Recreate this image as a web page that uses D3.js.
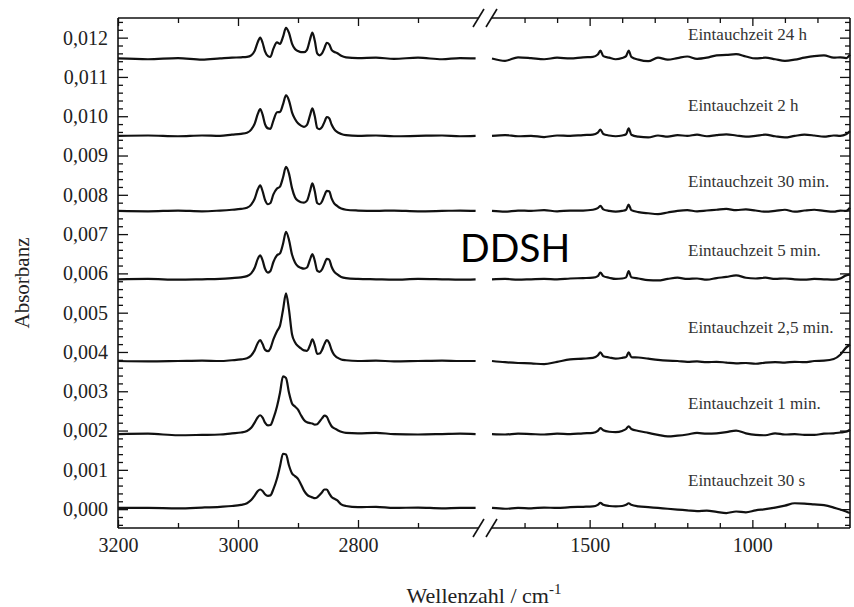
<!DOCTYPE html>
<html>
<head>
<meta charset="utf-8">
<script src="https://cdn.jsdelivr.net/npm/d3@7"></script>
<style>
  body { margin: 0; background: #fff; }
  svg { display: block; }
</style>
</head>
<body>
<script>
// spectra: absorbance offsets above each baseline, in units of 1e-4
const leftWn = [3200, 3150, 3100, 3060, 3030, 3010, 2995, 2985, 2978, 2972, 2967, 2963, 2959, 2955, 2950, 2946, 2941, 2935, 2930, 2925,
  2920, 2915, 2910, 2905, 2900, 2895, 2890, 2885, 2880, 2876, 2872, 2868, 2864, 2860, 2856, 2852, 2848, 2844, 2840, 2835,
  2828, 2820, 2800, 2770, 2740, 2700, 2660, 2630, 2604];
const rightWn = [1800, 1760, 1720, 1680, 1640, 1600, 1560, 1520, 1490, 1475, 1467, 1458, 1440, 1420, 1400, 1388, 1380, 1372, 1350, 1320,
  1290, 1260, 1230, 1200, 1170, 1140, 1110, 1080, 1050, 1020, 990, 960, 930, 900, 870, 840, 810, 780, 750, 730, 712, 700];

const labels = ["Eintauchzeit 24 h", "Eintauchzeit 2 h", "Eintauchzeit 30 min.", "Eintauchzeit 5 min.",
  "Eintauchzeit 2,5 min.", "Eintauchzeit 1 min.", "Eintauchzeit 30 s"];
const baselines = [0.01147, 0.0095, 0.00759, 0.00585, 0.00377, 0.00191, 0.00003];

const left24h = [0, -0.2, 0.1, -0.3, 0, 0.2, 0.3, 0.4, 0.8, 2.0, 4.2, 5.3, 4.0, 1.8, 0.6, 0.4, 2.5, 4.1, 3.7, 5.5,
  7.8, 6.5, 3.8, 2.4, 1.9, 1.6, 1.6, 2.2, 4.8, 6.6, 4.5, 1.3, 0.8, 1.3, 2.6, 4.0, 3.6, 2.2, 1.7, 1.4,
  0.7, 0.3, 0.1, 0.2, -0.1, 0.2, -0.2, 0.1, 0];
const left2h = [0, 0.1, -0.1, 0.1, 0, 0.3, 0.5, 0.8, 1.6, 3.2, 5.6, 6.8, 5.4, 3.0, 1.9, 1.8, 3.9, 6.0, 6.1, 8.0,
  10.3, 9.0, 6.0, 4.3, 3.2, 2.6, 2.3, 2.8, 5.2, 7.0, 5.0, 2.0, 1.7, 2.2, 3.5, 4.8, 4.5, 2.9, 1.8, 1.0,
  0.5, 0.2, 0, 0.1, -0.1, 0, 0.1, -0.1, 0];
const left30min = [0, -0.1, 0.1, -0.1, 0.1, 0.3, 0.5, 0.8, 1.6, 3.2, 5.5, 6.5, 5.0, 2.8, 1.7, 2.0, 4.2, 5.7, 6.2, 8.5,
  11.2, 9.5, 5.8, 3.5, 2.6, 2.2, 2.1, 2.6, 5.0, 7.0, 5.0, 2.0, 1.7, 2.4, 3.9, 5.1, 5.0, 3.2, 2.0, 1.3,
  0.6, 0.3, 0.1, 0, 0.1, -0.1, 0, 0.1, 0];
const left5min = [0, 0.1, -0.1, 0, 0.1, 0.3, 0.5, 0.8, 1.5, 3.0, 5.2, 6.1, 4.8, 2.7, 1.7, 2.1, 4.4, 6.1, 6.6, 9.0,
  12.1, 10.0, 6.3, 4.3, 3.3, 2.9, 2.7, 3.0, 5.0, 6.4, 4.7, 2.2, 1.9, 2.5, 3.9, 5.2, 5.0, 3.2, 2.0, 1.3,
  0.6, 0.3, 0.1, 0, -0.1, 0.1, 0, -0.1, 0];
const left25min = [0, -0.1, 0, 0.1, 0, 0.2, 0.4, 0.7, 1.4, 2.8, 4.6, 5.3, 4.3, 2.9, 2.5, 3.2, 5.5, 7.6, 9.0, 13.0,
  17.2, 13.0, 6.8, 4.8, 3.8, 3.2, 2.7, 2.6, 4.0, 5.5, 4.0, 1.8, 1.9, 2.8, 4.3, 5.3, 4.6, 2.8, 1.6, 0.9,
  0.4, 0.2, 0, 0.1, -0.1, 0, 0.1, 0, 0];
const left1min = [0, 0.1, -0.3, -0.2, -0.1, 0.2, 0.4, 0.8, 1.6, 3.0, 4.3, 4.8, 4.2, 2.9, 2.2, 2.3, 4.0, 7.0, 10.5, 14.7,
  14.3, 10.5, 7.8, 7.0, 6.2, 4.8, 3.6, 3.0, 2.8, 2.7, 2.4, 2.5, 3.2, 4.0, 4.7, 4.4, 3.1, 2.0, 1.5, 1.1,
  0.6, 0.3, 0.2, 0.3, 0, -0.1, 0, 0.1, 0];
const left30s = [0, 0, -0.1, 0.1, 0.3, 0.5, 0.8, 1.2, 2.0, 3.2, 4.3, 4.7, 4.3, 3.5, 3.1, 3.2, 4.8, 7.5, 10.6, 13.8,
  13.6, 10.8, 8.8, 8.1, 7.4, 6.0, 4.4, 3.4, 2.9, 2.7, 2.5, 2.7, 3.3, 4.0, 4.7, 4.7, 3.7, 2.8, 2.4, 2.0,
  0.9, 0.5, 0.2, 0.3, 0, 0.1, -0.1, 0, 0];

const right24h = [0, -0.6, 0.3, 0.1, -0.2, 0.2, 0, 0.3, 0.4, 1.0, 2.0, 0.6, 0.2, -0.2, 0.1, 0.6, 2.0, 0.4, -0.3, -0.7,
  0.2, -0.3, 0.1, 0.5, -0.1, 0.2, 0.8, 0.9, 1.1, 0.5, 0, 0.2, -0.2, -0.6, -0.3, 0.2, 0.6, 0.8, 0.2, 0.3, 0.1, 1.0];
const right2h = [0, 0.2, -0.1, 0, -0.3, 0.1, 0, 0.2, 0.3, 0.8, 1.6, 0.5, 0.1, -0.1, 0.1, 0.4, 1.9, 0.3, -0.2, -0.4,
  0.1, -0.2, 0.2, 0, 0.3, -0.1, 0.2, 0.4, 0.1, -0.2, 0, 0.3, -0.1, -0.4, 0, 0.3, 0.1, -0.2, 0.1, 0, 0.4, 1.2];
const right30min = [0, -0.2, 0.1, 0, 0.2, -0.1, 0.1, 0.1, 0.3, 0.7, 1.3, 0.4, 0, -0.2, 0, 0.3, 1.6, 0.2, -0.3, -0.6,
  -0.8, -0.4, 0, 0.2, -0.1, 0.1, 0.3, 0.5, 0.2, 0.4, 0.1, -0.2, 0, 0.3, -0.2, 0.1, 0.3, 0, -0.2, 0.1, 0, 0.8];
const right5min = [0, 0.1, -0.1, 0, 0.1, 0, 0.2, 0.3, 0.4, 0.8, 1.7, 0.8, 0.4, 0.1, 0.2, 0.5, 2.1, 0.5, 0.2, -0.2,
  -0.3, 0.1, 0.4, 0.1, 0.2, -0.1, 0.3, 0.6, 1.0, 0.4, 0.2, 0.4, 0.1, 0.2, 0, -0.1, 0.1, 0, -0.1, 0.2, 1.0, 1.2];
const right25min = [0, -0.3, -0.5, -0.6, -0.8, -0.2, 0.4, 0.6, 0.8, 1.4, 2.2, 1.2, 0.9, 0.6, 0.8, 1.0, 2.2, 1.0, 0.9, 0.6,
  0.3, 0.1, 0, -0.2, -0.1, -0.3, -0.2, -0.4, -0.6, -0.5, -0.7, -0.4, -0.3, -0.4, -0.2, -0.3, 0, 0.1, 0.5, 1.6, 3.4, 4.2];
const right1min = [0, -0.1, 0.1, 0, -0.1, 0.1, 0, 0.2, 0.3, 0.8, 1.5, 1.0, 0.6, 0.5, 0.8, 1.3, 2.0, 1.3, 0.8, 0.3,
  -0.2, -0.6, -0.4, -0.1, 0.3, 0.1, 0.2, 0.5, 0.9, 0.2, -0.2, -0.3, 0.2, -0.1, 0, -0.2, -0.2, 0.1, 0.2, 0.4, 0.6, 1.1];
const right30s = [0, -0.2, 0, -0.1, 0.1, 0, 0.2, 0.3, 0.4, 0.8, 1.3, 0.8, 0.5, 0.4, 0.5, 0.8, 1.2, 0.8, 0.4, 0.2,
  0, -0.2, -0.4, -0.6, -0.8, -0.7, -1.0, -1.3, -0.9, -1.1, -0.6, -0.3, 0.1, 0.6, 1.2, 1.1, 0.9, 0.7, 0.1, -0.4, -0.9, -1.3];

const leftSeries = [left24h, left2h, left30min, left5min, left25min, left1min, left30s];
const rightSeries = [right24h, right2h, right30min, right5min, right25min, right1min, right30s];

const yMajor = [0, 0.001, 0.002, 0.003, 0.004, 0.005, 0.006, 0.007, 0.008, 0.009, 0.010, 0.011, 0.012];
const leftMajor = [3200, 3000, 2800];
const leftMinor = [3100, 2900, 2700];
const rightMajor = [1500, 1000];
const rightMinor = [1700, 1600, 1400, 1300, 1200, 1100, 900, 800];

const width = 854, height = 607;
const svg = d3.select('body').append('svg')
  .attr('width', width)
  .attr('height', height);

const plotTop = 18, plotBottom = 528, plotLeft = 118, plotRight = 850;
const gapL = 478, gapR = 492;
// label lift above each spectrum (px, layout only)
const labelLift = [24, 30, 29, 29, 34, 31, 27];

const xL = d3.scaleLinear().domain([3200, 2600]).range([plotLeft, gapL]);
const xR = d3.scaleLinear().domain([1800, 700]).range([gapR, plotRight]);
const y = d3.scaleLinear().domain([-0.00048, 0.0125]).range([plotBottom, plotTop]);

const locale = d3.formatLocale({decimal: ",", thousands: ".", grouping: [3], currency: ["", ""]});
const fmt = locale.format(".3f");

const yMinor = d3.range(-0.0004, 0.01251, 0.0002).filter(v => Math.abs(Math.round(v * 1000) - v * 1000) > 1e-6);

const serif = "'Liberation Serif', 'Times New Roman', serif";

function styleAxis(g) {
  g.select('.domain').remove();
  g.selectAll('line').attr('stroke', '#111').attr('stroke-width', 1.3);
  g.selectAll('text').attr('font-family', serif).attr('font-size', 20).attr('fill', '#222');
}

// left axis
svg.append('g').attr('transform', `translate(${plotLeft},0)`)
  .call(d3.axisLeft(y).tickValues(yMajor).tickSize(-10).tickPadding(10).tickFormat(fmt))
  .call(styleAxis);
svg.append('g').attr('transform', `translate(${plotLeft},0)`)
  .call(d3.axisLeft(y).tickValues(yMinor).tickSize(-5).tickFormat(''))
  .call(styleAxis);
// right axis
svg.append('g').attr('transform', `translate(${plotRight},0)`)
  .call(d3.axisRight(y).tickValues(yMajor).tickSize(-10).tickFormat(''))
  .call(styleAxis);
svg.append('g').attr('transform', `translate(${plotRight},0)`)
  .call(d3.axisRight(y).tickValues(yMinor).tickSize(-5).tickFormat(''))
  .call(styleAxis);

// bottom + top axes, both panels
[[xL, leftMajor, leftMinor], [xR, rightMajor, rightMinor]].forEach(([sc, maj, min]) => {
  svg.append('g').attr('transform', `translate(0,${plotBottom})`)
    .call(d3.axisBottom(sc).tickValues(maj).tickSize(-8).tickPadding(10).tickFormat(d3.format('d')))
    .call(styleAxis);
  svg.append('g').attr('transform', `translate(0,${plotBottom})`)
    .call(d3.axisBottom(sc).tickValues(min).tickSize(-5).tickFormat(''))
    .call(styleAxis);
  svg.append('g').attr('transform', `translate(0,${plotTop})`)
    .call(d3.axisTop(sc).tickValues(maj).tickSize(-8).tickFormat(''))
    .call(styleAxis);
  svg.append('g').attr('transform', `translate(0,${plotTop})`)
    .call(d3.axisTop(sc).tickValues(min).tickSize(-5).tickFormat(''))
    .call(styleAxis);
});

// frame with axis break
const frame = svg.append('g').attr('stroke', '#111').attr('stroke-width', 1.6).attr('fill', 'none');
frame.append('line').attr('x1', plotLeft).attr('x2', plotLeft).attr('y1', plotTop).attr('y2', plotBottom);
frame.append('line').attr('x1', plotRight).attr('x2', plotRight).attr('y1', plotTop).attr('y2', plotBottom);
[plotTop, plotBottom].forEach(yy => {
  frame.append('line').attr('x1', plotLeft).attr('x2', gapL).attr('y1', yy).attr('y2', yy);
  frame.append('line').attr('x1', gapR).attr('x2', plotRight).attr('y1', yy).attr('y2', yy);
  [473, 486].forEach(sx => {
    frame.append('line').attr('x1', sx).attr('y1', yy + 9).attr('x2', sx + 11).attr('y2', yy - 9);
  });
});

// spectra
const line = sc => d3.line()
  .x(d => sc(d[0]))
  .y(d => y(d[1]))
  .curve(d3.curveMonotoneX);

labels.forEach((lab, i) => {
  const base = baselines[i];
  const lp = leftWn.map((w, j) => [w, base + leftSeries[i][j] / 1e4]);
  const rp = rightWn.map((w, j) => [w, base + rightSeries[i][j] / 1e4]);
  svg.append('path').attr('d', line(xL)(lp))
    .attr('fill', 'none').attr('stroke', '#111').attr('stroke-width', 2.2).attr('stroke-linejoin', 'round');
  svg.append('path').attr('d', line(xR)(rp))
    .attr('fill', 'none').attr('stroke', '#111').attr('stroke-width', 2.2).attr('stroke-linejoin', 'round');
  svg.append('text')
    .attr('x', 688)
    .attr('y', y(base) - labelLift[i])
    .attr('dominant-baseline', 'central')
    .attr('font-family', serif)
    .attr('font-size', 17)
    .attr('fill', '#333')
    .text(lab);
});

// axis titles
svg.append('text')
  .attr('transform', `translate(29,283) rotate(-90)`)
  .attr('text-anchor', 'middle')
  .attr('font-family', serif)
  .attr('font-size', 21)
  .attr('fill', '#222')
  .text('Absorbanz');

const xt = svg.append('text')
  .attr('x', 484)
  .attr('y', 603)
  .attr('text-anchor', 'middle')
  .attr('font-family', serif)
  .attr('font-size', 22)
  .attr('fill', '#222');
xt.append('tspan').text('Wellenzahl / cm');
xt.append('tspan').attr('dy', -9).attr('font-size', 15).text('-1');

svg.append('text')
  .attr('x', 460)
  .attr('y', 262)
  .attr('font-family', 'Lato, "Open Sans", sans-serif')
  .attr('font-size', 39)
  .attr('fill', '#000')
  .text('DDSH');
</script>
</body>
</html>
